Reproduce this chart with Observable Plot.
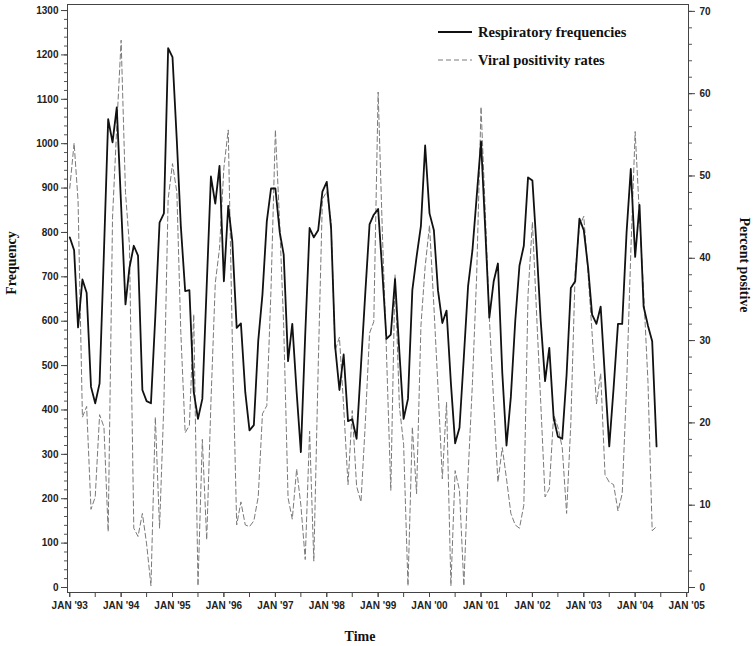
<!DOCTYPE html>
<html><head><meta charset="utf-8">
<script src="https://cdn.jsdelivr.net/npm/d3@7"></script>
<script src="https://cdn.jsdelivr.net/npm/@observablehq/plot@0.6"></script>
<style>
body{margin:0;background:#fff;}
#chart{position:relative;width:753px;height:646px;}
#legend{position:absolute;left:436px;top:18px;font-family:"Liberation Serif","Times New Roman",serif;font-weight:bold;font-size:14.5px;color:#111;}
#legend div{display:flex;align-items:center;height:28px;}
#legend svg{margin-right:4px;}
.ttl{position:absolute;font-family:"Liberation Serif","Times New Roman",serif;font-weight:bold;font-size:14px;color:#111;white-space:nowrap;line-height:1;}
</style></head><body><div id="chart"><div id="legend"></div></div>
<script>
const startYear = 1993;
// Monthly values, Jan 1993 .. Jun 2004
const respiratory = [
  789, 760, 586, 694, 664, 452, 415, 460, 757, 1055, 1003, 1082,
  860, 638, 720, 770, 748, 445, 420, 415, 612, 822, 843, 1215,
  1195, 1005, 815, 668, 670, 440, 380, 425, 680, 926, 865, 950,
  690, 860, 780, 585, 595, 440, 354, 366, 555, 660, 825, 899,
  899, 800, 750, 510, 594, 440, 305, 570, 810, 789, 805, 892,
  914, 808, 545, 445, 525, 375, 379, 335, 500, 660, 818, 840,
  853, 705, 560, 570, 695, 530, 380, 425, 670, 745, 815, 996,
  843, 805, 670, 596, 624, 460, 325, 360, 520, 679, 760, 880,
  1005, 800, 608, 690, 730, 484, 320, 430, 600, 725, 770, 924,
  917, 760, 601, 465, 540, 382, 340, 335, 480, 675, 690, 831,
  805, 720, 615, 594, 633, 470, 318, 450, 594, 594, 800, 943,
  745, 862, 633, 590, 555, 318
];
const viral = [
  48.5, 54, 47, 20.7, 22, 9.5, 11, 21, 19.5, 6.8, 45, 56,
  66.5, 48, 41.6, 7.2, 6.2, 9, 5.3, 0.2, 20.7, 7.2, 22.5, 47.2,
  51.5, 48, 31, 18.8, 19.7, 33.2, 0.2, 18, 5.8, 22.5, 37, 41.2,
  51, 55.6, 30, 7.6, 10.4, 7.6, 7.4, 8.1, 11, 21.1, 22.1, 36.3,
  55.6, 44, 31.8, 10.9, 8.3, 14.4, 10, 3.4, 19, 3.2, 26.7, 47.2,
  48.1, 44.4, 28.8, 30.4, 22, 12.5, 21.5, 12.3, 10.4, 19.7, 30.9, 32.3,
  60.2, 42.6, 28.6, 11.8, 38, 22, 17.4, 0.2, 19.5, 11.4, 31.8, 39,
  44, 34.2, 24.4, 13.2, 22.5, 0.2, 14.2, 11.8, 0.2, 13.7, 24.9, 37.9,
  58.4, 45.3, 32.8, 22.5, 12.8, 17, 13.2, 9, 7.6, 7.2, 10, 35.6,
  44.4, 32.8, 22.5, 11, 12, 21, 19.5, 17, 9, 20, 38.4, 43.9,
  45.1, 38, 30.9, 22.3, 26, 13.7, 12.8, 12.5, 9.3, 11.4, 24.4, 40.7,
  55.4, 45, 36, 25, 6.9, 7.4
];
const years = d3.range(1993, 2006);
const tickLabels = years.map(y => "JAN '" + String(y).slice(2));
const leftTicks = d3.range(0, 1301, 100);
const leftMinor = d3.range(0, 1301, 20);
const rightTicks = d3.range(0, 71, 10);
const rightMinor = d3.range(0, 71, 2);
const seriesNames = ["Respiratory frequencies", "Viral positivity rates"];
const axisTitles = {left: "Frequency", right: "Percent positive", bottom: "Time"};

// scale geometry (pixels per unit on each y axis)
const PX_L = 0.4438, PX_R = 8.23;
const k = PX_R / PX_L; // percent -> frequency units

const t0 = new Date(Date.UTC(startYear, 0, 1));
const data = respiratory.map((v, i) => ({date: d3.utcMonth.offset(t0, i), resp: v, viral: viral[i]}));
const yearDates = years.map(y => new Date(Date.UTC(y, 0, 1)));
const halfYears = d3.utcMonth.every(6).range(new Date(Date.UTC(1993,0,1)), new Date(Date.UTC(2005,0,2)));

const chart = Plot.plot({
  width: 753, height: 646,
  marginLeft: 67, marginRight: 65, marginTop: 4, marginBottom: 54,
  style: {fontFamily: "Liberation Sans, Arial, sans-serif", fontSize: "10px", fontWeight: "bold", color: "#222", background: "#fff", overflow: "visible"},
  x: {type: "utc", domain: [new Date(Date.UTC(1992, 11, 16)), new Date(Date.UTC(2005, 0, 14))]},
  y: {domain: [-11.27, 1313.6]},
  marks: [
    Plot.frame({stroke: "#444", strokeWidth: 1}),
    Plot.axisX({ticks: halfYears, tickSize: 5, tickFormat: () => "", label: null, stroke: "#444"}),
    Plot.axisX({ticks: yearDates, tickSize: 5, tickPadding: 4, label: null, stroke: "#444",
      tickFormat: d => tickLabels[years.indexOf(d.getUTCFullYear())]}),
    Plot.axisY({ticks: leftMinor, tickSize: 3, tickFormat: () => "", label: null, stroke: "#555"}),
    Plot.axisY({ticks: leftTicks, tickSize: 6, tickPadding: 3, label: null, stroke: "#444", tickFormat: d => String(d)}),
    Plot.axisY({anchor: "right", ticks: rightMinor.map(p => p * k), tickSize: 3, tickFormat: () => "", label: null, stroke: "#555"}),
    Plot.axisY({anchor: "right", ticks: rightTicks.map(p => p * k), tickSize: 6, tickPadding: 5, label: null, stroke: "#444",
      tickFormat: v => String(Math.round(v / k))}),
    Plot.line(data, {x: "date", y: d => d.viral * k, stroke: "#7a7a7a", strokeWidth: 1, strokeDasharray: "5,3"}),
    Plot.line(data, {x: "date", y: "resp", stroke: "#111", strokeWidth: 1.8})
  ]
});
const host = document.getElementById("chart");
host.prepend(chart);

function addTitle(text, cx, cy, rot) {
  const d = document.createElement("div");
  d.className = "ttl";
  d.textContent = text;
  d.style.left = cx + "px";
  d.style.top = cy + "px";
  d.style.transform = `translate(-50%,-50%) rotate(${rot}deg)`;
  host.appendChild(d);
}
addTitle(axisTitles.left, 12, 263, -90);
addTitle(axisTitles.right, 744, 265, 90);
addTitle(axisTitles.bottom, 360, 637, 0);

const legend = document.getElementById("legend");
seriesNames.forEach((name, i) => {
  const row = document.createElement("div");
  const dash = i === 0 ? "" : 'stroke-dasharray="5,3"';
  const col = i === 0 ? "#111" : "#7a7a7a";
  const sw = i === 0 ? 1.8 : 1;
  row.innerHTML = `<svg width="38" height="10"><line x1="2" x2="36" y1="5" y2="5" stroke="${col}" stroke-width="${sw}" ${dash}/></svg><span>${name}</span>`;
  legend.appendChild(row);
});
</script>
</body></html>
